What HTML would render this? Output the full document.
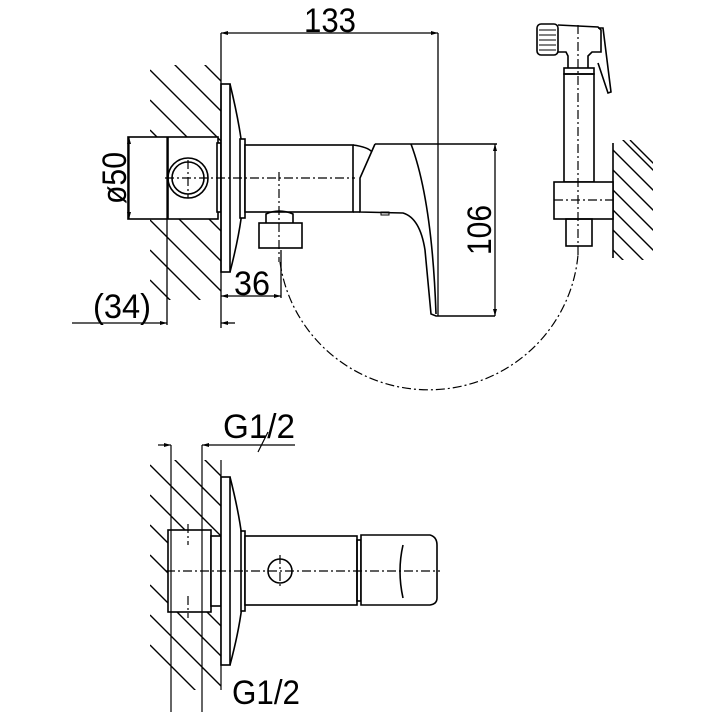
<!DOCTYPE html>
<html><head><meta charset="utf-8"><style>html,body{margin:0;padding:0;background:#fff}svg{display:block}</style></head>
<body>
<svg width="720" height="720" viewBox="0 0 720 720" xmlns="http://www.w3.org/2000/svg" font-family="Liberation Sans, sans-serif" fill="none" stroke="#000" stroke-width="1.6">
<defs>
<clipPath id="h1"><rect x="150" y="65" width="71" height="235"/></clipPath>
<clipPath id="h2"><rect x="150" y="460" width="71" height="230"/></clipPath>
<clipPath id="h3"><rect x="613" y="140" width="40" height="120"/></clipPath>
</defs>
<g clip-path="url(#h1)" stroke-width="1.4">
<path d="M150,40 L260,150 M150,70 L260,180 M150,100 L260,210 M150,130 L260,240 M150,160 L260,270 M150,190 L260,300 M150,220 L260,330 M150,250 L260,360 M150,280 L260,390 M150,10 L260,120 M150,-20 L260,90"/>
</g>
<g clip-path="url(#h2)" stroke-width="1.4">
<path d="M150,435 L260,545 M150,465 L260,575 M150,495 L260,605 M150,525 L260,635 M150,555 L260,665 M150,585 L260,695 M150,615 L260,725 M150,645 L260,755 M150,405 L260,515"/>
</g>
<g clip-path="url(#h3)" stroke-width="1.4">
<path d="M613,130 L660,177 M613,150 L660,197 M613,170 L660,217 M613,190 L660,237 M613,210 L660,257 M613,230 L660,277 M613,250 L660,297 M630,140 L660,170"/>
</g>

<g fill="#fff">
<rect x="128" y="137" width="90" height="82"/>
<rect x="217" y="143" width="4" height="69"/>
<rect x="221" y="84" width="9" height="188"/>
</g>
<line x1="168" y1="137" x2="168" y2="219"/>
<circle cx="188" cy="178" r="20"/>
<circle cx="188" cy="178" r="16"/>
<path d="M230,84 Q246,150 243,178 Q246,210 230,272"/>
<rect x="240" y="139" width="5" height="79" fill="#fff"/>
<rect x="245" y="145" width="108" height="67" fill="#fff"/>
<path d="M353,145 Q368,147 372,152"/>
<line x1="353" y1="212" x2="360" y2="212"/>
<path d="M375,144 L360,178 L360,212 L403,213 Q420,218 425,250 L431,314 L436,316 L495,316"/>
<line x1="375" y1="144" x2="497" y2="144"/>
<path d="M411,144 Q432,200 436,314"/>
<rect x="381" y="212" width="8" height="3" stroke-width="1"/>
<path d="M266,223 L266,214 Q279,208 293,214 L293,223"/>
<rect x="259" y="223" width="43" height="25" fill="#fff"/>
<g stroke-width="1.2" stroke-dasharray="9,3,2,3">
<line x1="165" y1="178" x2="355" y2="178"/>
<line x1="188" y1="160" x2="188" y2="198"/>
<line x1="279" y1="172" x2="279" y2="262"/>
<path d="M280,262 A150,148 0 0 0 578,255"/>
</g>
<g stroke-width="1.3">
<line x1="221" y1="33" x2="438" y2="33"/>
<line x1="221" y1="33" x2="221" y2="328"/>
<line x1="438" y1="33" x2="438" y2="316"/>
<line x1="495" y1="144" x2="495" y2="316"/>
<line x1="221" y1="296" x2="281" y2="296"/>
<line x1="281" y1="250" x2="281" y2="298"/>
<line x1="72" y1="323" x2="167" y2="323"/>
<line x1="167" y1="137" x2="167" y2="325"/>
<line x1="221" y1="323" x2="235" y2="323"/>
<line x1="129" y1="137" x2="129" y2="219"/>
</g>
<g fill="#000" stroke="none">
<path d="M221,33 l7,-2 v4z M438,33 l-7,-2 v4z M495,144 l-2,7 h4z M495,316 l-2,-7 h4z M221,296 l7,-2 v4z M281,296 l-7,-2 v4z M167,323 l-7,-2 v4z M221,323 l7,-2 v4z M129,137 l-2,7 h4z M129,219 l-2,-7 h4z"/>
</g>
<g fill="#000" stroke="none" font-size="34">
<text x="330" y="32" text-anchor="middle" textLength="52" lengthAdjust="spacingAndGlyphs">133</text>
<text x="252" y="295" text-anchor="middle" textLength="36" lengthAdjust="spacingAndGlyphs">36</text>
<text x="122" y="318" text-anchor="middle" textLength="58" lengthAdjust="spacingAndGlyphs">(34)</text>
<text transform="translate(491,230) rotate(-90)" text-anchor="middle" textLength="50" lengthAdjust="spacingAndGlyphs">106</text>
<text transform="translate(126,178) rotate(-90)" text-anchor="middle" textLength="52" lengthAdjust="spacingAndGlyphs">ø50</text>
</g>

<line x1="613" y1="143" x2="613" y2="258"/>
<rect x="537" y="24" width="21" height="31" rx="4" fill="#fff"/>
<g stroke-width="1"><path d="M539,30 H556 M539,35 H556 M539,40 H556 M539,45 H556 M539,50 H556"/></g>
<path d="M558,25 L598,27 L601,30 L601,52 L592,52 L588,56 L588,68 M558,52 L566,52 L568,56 L568,68"/>
<path d="M598,28 L603,28 L611,92 L608,93 L598,63"/>
<rect x="564" y="68" width="30" height="6"/>
<rect x="564" y="74" width="30" height="108"/>
<rect x="554" y="182" width="59" height="37" fill="#fff"/>
<rect x="566" y="219" width="26" height="27"/>
<g stroke-width="1.2" stroke-dasharray="9,3,2,3">
<line x1="578" y1="25" x2="578" y2="258"/>
<line x1="554" y1="200" x2="613" y2="200"/>
</g>

<line x1="221" y1="460" x2="221" y2="690" stroke-width="1.2"/>
<rect x="168" y="530" width="43" height="82" fill="#fff"/>
<rect x="211" y="536" width="10" height="70" fill="#fff"/>
<rect x="221" y="477" width="9" height="188" fill="#fff"/>
<path d="M230,477 Q246,540 243,571 Q246,605 230,665"/>
<rect x="241" y="531" width="4" height="80" fill="#fff"/>
<rect x="245" y="536" width="112" height="69" fill="#fff"/>
<rect x="357" y="540" width="4" height="61"/>
<path d="M361,535 L430,535 Q437,537 437,545 L437,598 Q437,604 430,605 L361,605 Z" fill="#fff"/>
<path d="M403,545 Q397,571 403,598"/>
<circle cx="280" cy="571" r="12"/>
<g stroke-width="1.2">
<line x1="171" y1="445" x2="171" y2="712"/>
<line x1="202" y1="445" x2="202" y2="712"/>
<line x1="158" y1="445" x2="171" y2="445"/>
<line x1="202" y1="445" x2="295" y2="445"/>
<line x1="258" y1="452" x2="268" y2="432"/>
</g>
<g fill="#000" stroke="none"><path d="M171,445 l-7,-2 v4z M202,445 l7,-2 v4z"/></g>
<g stroke-width="1.2" stroke-dasharray="9,3,2,3">
<line x1="166" y1="571" x2="440" y2="571"/>
<line x1="280" y1="555" x2="280" y2="588"/>
<line x1="188" y1="524" x2="188" y2="545"/>
<line x1="188" y1="596" x2="188" y2="618"/>
</g>
<g fill="#000" stroke="none" font-size="34">
<text x="259" y="438" text-anchor="middle" textLength="72" lengthAdjust="spacingAndGlyphs">G1/2</text>
<text x="266" y="704" text-anchor="middle" textLength="68" lengthAdjust="spacingAndGlyphs">G1/2</text>
</g>
</svg>
</body></html>
